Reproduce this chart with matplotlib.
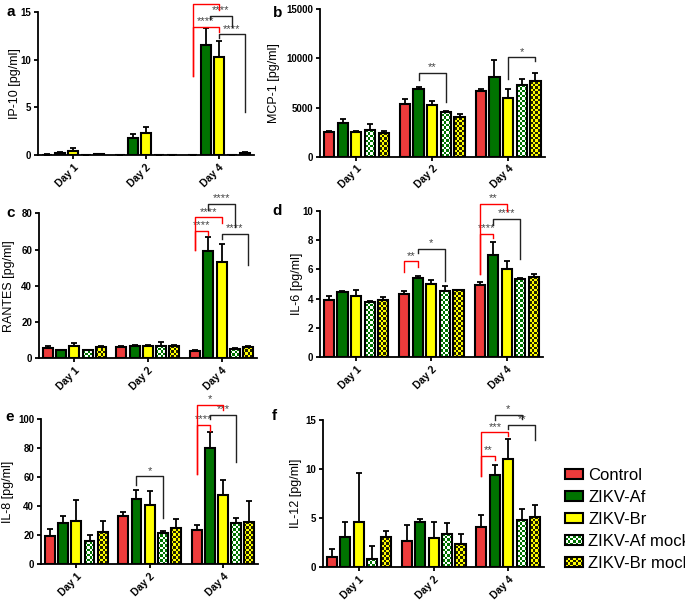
import matplotlib
matplotlib.use("Agg")
import matplotlib.pyplot as plt
from matplotlib.patches import Patch, Rectangle
from matplotlib.colors import ListedColormap
from matplotlib.legend_handler import HandlerBase
import numpy as np

plt.rcParams['font.family'] = ['Liberation Sans', 'DejaVu Sans']

days = ["Day 1", "Day 2", "Day 4"]
groups = ["Control", "ZIKV-Af", "ZIKV-Br", "ZIKV-Af mock", "ZIKV-Br mock"]

# means per group (rows) for Day 1, Day 2, Day 4 ; sem as upper error
ip10 = [[0.05, 0.05, 0.05], [0.2, 1.8, 11.5], [0.45, 2.35, 10.3], [0.02, 0.02, 0.02], [0.1, 0.05, 0.25]]
ip10_err = [[0.05, 0.0, 0.0], [0.15, 0.45, 1.8], [0.25, 0.6, 1.7], [0.0, 0.0, 0.0], [0.05, 0.0, 0.1]]

mcp1 = [[2530, 5400, 6650], [3400, 6860, 8070], [2500, 5270, 6000], [2700, 4600, 7260], [2470, 4000, 7670]]
mcp1_err = [[60, 500, 210], [400, 200, 1730], [150, 410, 860], [600, 60, 640], [180, 360, 830]]

rantes = [[5.5, 6.3, 4.25], [4.6, 7.0, 59.1], [6.6, 7.0, 53.0], [4.4, 7.0, 5.2], [6.3, 6.7, 6.1]]
rantes_err = [[1.0, 0.5, 0.3], [0.2, 0.2, 7.8], [1.9, 0.2, 9.8], [0.4, 1.7, 0.6], [0.2, 0.6, 0.4]]

il6 = [[3.9, 4.3, 4.94], [4.44, 5.4, 7.0], [4.19, 4.97, 6.04], [3.78, 4.49, 5.33], [3.87, 4.56, 5.49]]
il6_err = [[0.25, 0.2, 0.21], [0.05, 0.16, 0.9], [0.37, 0.31, 0.5], [0.07, 0.38, 0.09], [0.21, 0.04, 0.2]]

il8 = [[19.5, 33.1, 23.7], [28.3, 44.6, 80.0], [29.4, 40.9, 47.8], [15.6, 21.6, 28.3], [22.1, 24.6, 29.0]]
il8_err = [[4.6, 2.8, 3.0], [5.0, 6.7, 10.8], [14.7, 9.7, 10.4], [4.6, 0.9, 3.4], [7.8, 6.4, 14.7]]

il12 = [[1.0, 2.66, 4.07], [3.04, 4.6, 9.4], [4.6, 3.0, 11.0], [0.85, 3.4, 4.78], [3.04, 2.36, 5.12]]
il12_err = [[0.88, 1.64, 1.23], [1.56, 0.3, 0.95], [5.0, 1.6, 2.0], [1.25, 1.04, 1.16], [0.62, 1.02, 1.17]]

# significance brackets: (day, bar_a, bar_b, top, leg_a, leg_b, label, color)
sig_a = [(2, 0, 2, 15.8, 8.3, 15.2, "****", "red"),
         (2, 0, 2, 13.46, 8.3, 12.86, "****", "red"),
         (2, 1.3, 3, 14.6, 14.3, 13.46, "****", "k"),
         (2, 2, 4, 12.65, 12.3, 4.5, "****", "k")]
sig_b = [(1, 1, 3, 8550, 7770, 5570, "**", "k"),
         (2, 2, 4, 10100, 7900, 9700, "*", "k")]
sig_c = [(2, 1, 3, 85.4, 82, 72.6, "****", "k"),
         (2, 0, 2, 77.8, 59.7, 74.5, "****", "red"),
         (2, 0, 1, 70.2, 59.7, 68.0, "****", "red"),
         (2, 2, 4, 68.6, 66.0, 51.4, "****", "k")]
sig_d = [(1, 0, 1, 6.54, 5.85, 6.13, "**", "red"),
         (1, 1, 3, 7.4, 7.1, 5.2, "*", "k"),
         (2, 0, 2, 10.48, 5.67, 10.0, "**", "red"),
         (2, 0, 1, 8.43, 5.67, 8.18, "****", "red"),
         (2, 1, 3, 9.45, 9.04, 6.7, "****", "k")]
sig_e = [(1, 1, 3, 60.5, 54.7, 31.7, "*", "k"),
         (2, 0, 2, 109.9, 62.3, 106.4, "*", "red"),
         (2, 0, 1, 96.1, 62.3, 92.0, "****", "red"),
         (2, 1, 3, 103.0, 100.2, 70.1, "***", "k")]
sig_f = [(2, 0, 1, 11.34, 9.22, 10.93, "**", "red"),
         (2, 0, 2, 13.73, 9.22, 13.32, "***", "red"),
         (2, 1, 3, 15.48, 14.93, 15.1, "*", "k"),
         (2, 2, 4, 14.45, 14.08, 12.9, "**", "k")]

red = "#EE3B3B"
green = "#007300"
yellow = "#FFFF00"
colors = [red, green, yellow, green, yellow]
checker2 = [None, None, None, "white", "#222200"]

step = 0.18
width = 0.135
cell = 2.5  # checker square in pixels
x = np.arange(len(days))


def bar_x(day, i):
    return x[day] + (i - 2) * step


def checker_fill(ax, rect, c1, c2):
    x0, w, h = rect.get_x(), rect.get_width(), rect.get_height()
    p0 = ax.transData.transform((x0, 0))
    p1 = ax.transData.transform((x0 + w, h))
    nx = max(1, int(round(abs(p1[0] - p0[0]) / cell)))
    ny = max(1, int(round(abs(p1[1] - p0[1]) / cell)))
    arr = np.add.outer(np.arange(ny), np.arange(nx)) % 2
    ax.imshow(arr, extent=(x0, x0 + w, 0, h), origin="lower", aspect="auto",
              cmap=ListedColormap([c1, c2]), vmin=0, vmax=1, interpolation="nearest", zorder=2)


class CheckerHandler(HandlerBase):
    def __init__(self, c1, c2, n=7, m=4):
        super().__init__()
        self.c1, self.c2, self.n, self.m = c1, c2, n, m

    def create_artists(self, legend, orig_handle, xdescent, ydescent, width, height, fontsize, trans):
        arts = []
        cw = width / self.n
        ch = height / self.m
        for i in range(self.n):
            for j in range(self.m):
                col = self.c1 if (i + j) % 2 == 0 else self.c2
                arts.append(Rectangle((-xdescent + i * cw, -ydescent + j * ch), cw, ch,
                                      facecolor=col, edgecolor="none", transform=trans))
        arts.append(Rectangle((-xdescent, -ydescent), width, height, facecolor="none",
                              edgecolor="black", linewidth=1.5, transform=trans))
        return arts


def panel(rect, letter, ylabel, vals, errs, ymax, yticks, sigs, lx, ly, labx):
    ax = fig.add_axes(rect)
    ax.set_xlim(-0.48, 2.48)
    ax.set_ylim(0, ymax)
    for i in range(len(groups)):
        xs = x + (i - 2) * step
        if checker2[i] is None:
            ax.bar(xs, vals[i], width, color=colors[i], edgecolor="black", linewidth=1.5, zorder=3)
        else:
            bars = ax.bar(xs, vals[i], width, color="none", edgecolor="black", linewidth=1.5, zorder=3)
            for r in bars:
                checker_fill(ax, r, colors[i], checker2[i])
        ax.errorbar(xs, vals[i], yerr=[np.zeros(3), errs[i]], fmt="none", ecolor="black",
                    elinewidth=1.3, capsize=2.5, capthick=1.3, zorder=1)
    for day, a, b, top, la, lb, lab, c in sigs:
        xa = bar_x(day, a)
        xb = bar_x(day, b)
        col = "red" if c == "red" else "#222222"
        ax.plot([xa, xa, xb, xb], [la, top, top, lb], color=col, lw=1.0, clip_on=False, zorder=4)
        ax.text((xa + xb) / 2, top + ymax * 0.004, lab, ha="center", va="bottom", fontsize=8,
                color="#444444", clip_on=False)
    ax.set_xlim(-0.48, 2.48)
    ax.set_ylim(0, ymax)
    ax.set_yticks(yticks)
    ax.set_xticks(x)
    ax.set_xticklabels(days, rotation=45, ha="right", rotation_mode="anchor", fontweight="bold",
                       fontsize=7.5)
    for t in ax.get_yticklabels():
        t.set_fontweight("bold")
        t.set_fontsize(7)
    ax.spines["top"].set_visible(False)
    ax.spines["right"].set_visible(False)
    ax.spines["left"].set_linewidth(1.3)
    ax.spines["bottom"].set_linewidth(1.3)
    ax.tick_params(width=1.3, length=3, pad=2)
    ax.set_ylabel(ylabel, fontsize=9)
    ax.yaxis.set_label_coords(labx, 0.5)
    fig.text(lx, ly, letter, fontsize=11, fontweight="bold", ha="left", va="center")
    return ax


fig = plt.figure(figsize=(6.85, 6.01), dpi=100)

panel([0.0555, 0.742, 0.315, 0.238], "a", "IP-10 [pg/ml]", ip10, ip10_err, 15, [0, 5, 10, 15],
      sig_a, 0.010, 0.980, -0.078)
panel([0.467, 0.739, 0.328, 0.246], "b", "MCP-1 [pg/ml]", mcp1, mcp1_err, 15000, [0, 5000, 10000, 15000],
      sig_b, 0.398, 0.978, -0.178)
panel([0.057, 0.404, 0.318, 0.241], "c", "RANTES [pg/ml]", rantes, rantes_err, 80, [0, 20, 40, 60, 80],
      sig_c, 0.010, 0.645, -0.11)
panel([0.467, 0.406, 0.3255, 0.243], "d", "IL-6 [pg/ml]", il6, il6_err, 10, [0, 2, 4, 6, 8, 10],
      sig_d, 0.397, 0.649, -0.076)
panel([0.060, 0.0616, 0.317, 0.241], "e", "IL-8 [pg/ml]", il8, il8_err, 100, [0, 20, 40, 60, 80, 100],
      sig_e, 0.008, 0.306, -0.127)
panel([0.4715, 0.0566, 0.323, 0.245], "f", "IL-12 [pg/ml]", il12, il12_err, 15, [0, 5, 10, 15],
      sig_f, 0.397, 0.307, -0.095)

handles = []
hmap = {}
for i in range(len(groups)):
    h = Patch(facecolor=colors[i], edgecolor="black", linewidth=1.5)
    handles.append(h)
    if checker2[i] is not None:
        hmap[h] = CheckerHandler(colors[i], checker2[i])
fig.legend(handles, groups, loc="center left", bbox_to_anchor=(0.808, 0.135), frameon=False,
           fontsize=12, handlelength=1.1, handleheight=0.55, handletextpad=0.3, labelspacing=0.42,
           borderpad=0.2, handler_map=hmap)

fig.savefig("out.png", dpi=100)
